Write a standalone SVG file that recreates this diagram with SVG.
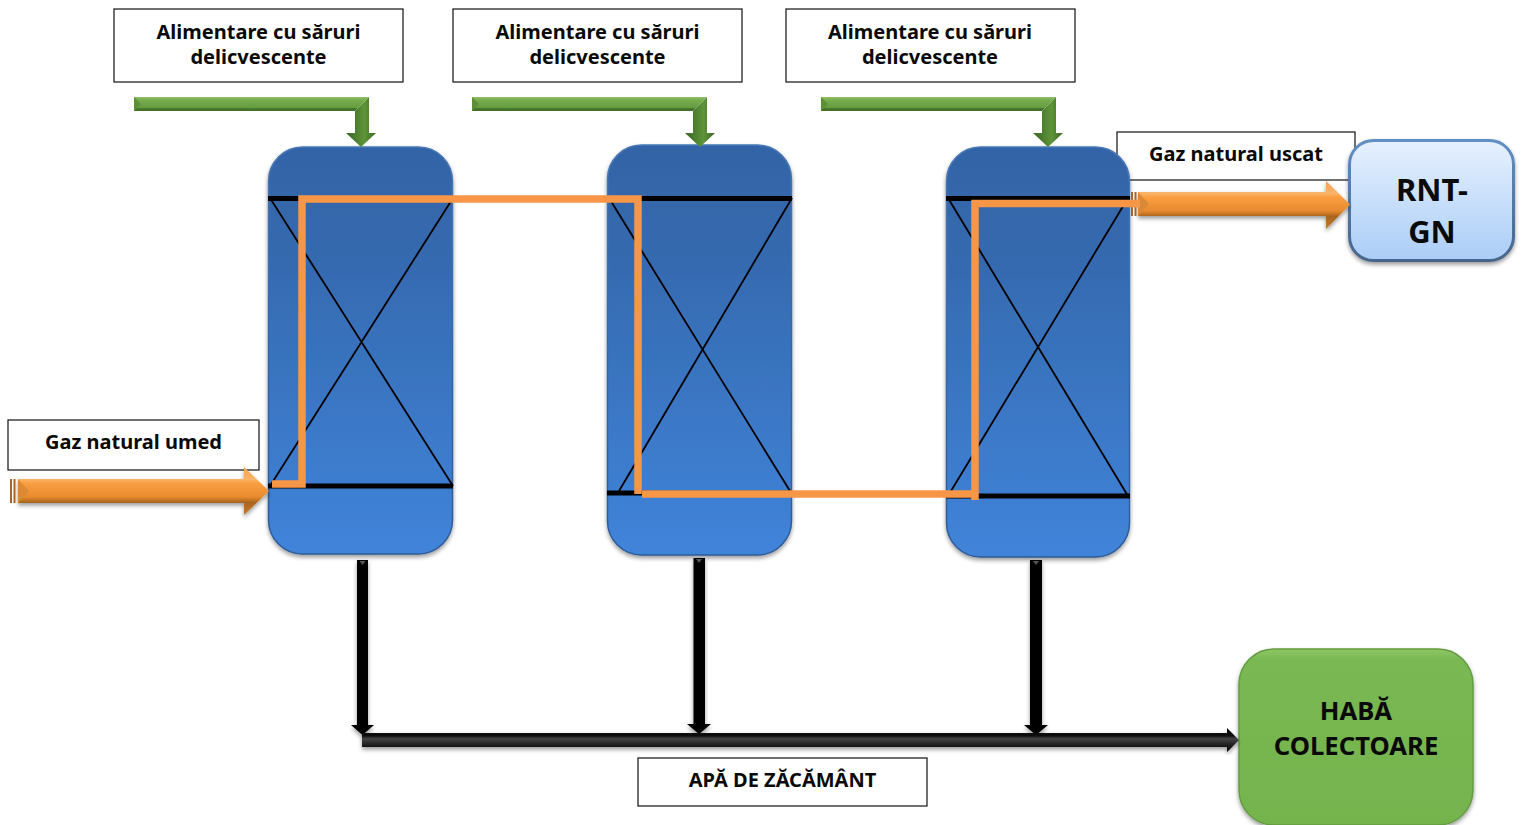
<svg xmlns="http://www.w3.org/2000/svg" width="1523" height="825" viewBox="0 0 1523 825">
<style>
text{font-family:"Noto Sans","Open Sans","Liberation Sans",sans-serif;font-weight:700;fill:#0a0a0a;text-anchor:middle}
.lb{font-size:20px}
.big{font-size:25.700px}
.box{fill:#fff;stroke:#111;stroke-width:1.2}
.vessel{fill:url(#gv);stroke:url(#gvs);stroke-width:1.500;filter:url(#sh)}
.x{fill:none;stroke:#000;stroke-width:1.800}
.bar{stroke:#000;stroke-width:5}
.org{fill:url(#go);filter:url(#sh)}
.blk{fill:url(#gk);filter:url(#sh)}
.blkv{fill:#000;filter:url(#sh)}
.tip{fill:#555}
.gh{fill:url(#ggh)}
.gv{fill:url(#ggv)}
.be{fill:#5c8f38}
.pipe{fill:none;stroke:#f79646;stroke-width:7.500;stroke-linejoin:miter}
</style>
<defs>
<filter id="sh" x="-5%" y="-5%" width="110%" height="115%"><feDropShadow dx="0" dy="2.500" stdDeviation="2" flood-color="#000" flood-opacity=".4"/></filter>
<linearGradient id="gv" x1="0" y1="0" x2="0" y2="1"><stop offset="0" stop-color="#3364a6"/><stop offset=".25" stop-color="#3569ae"/><stop offset="1" stop-color="#4084da"/></linearGradient>
<linearGradient id="gvs" x1="0" y1="0" x2="0" y2="1"><stop offset="0" stop-color="#4878b6"/><stop offset=".5" stop-color="#3567a8"/><stop offset="1" stop-color="#2d5a96"/></linearGradient>
<linearGradient id="go" x1="0" y1="0" x2="0" y2="1"><stop offset="0" stop-color="#f3a04e"/><stop offset=".26" stop-color="#f9b46a"/><stop offset=".33" stop-color="#f9a043"/><stop offset=".62" stop-color="#e98a2e"/><stop offset=".74" stop-color="#a8651f"/><stop offset="1" stop-color="#c77a2c"/></linearGradient>
<linearGradient id="gk" x1="0" y1="0" x2="0" y2="1"><stop offset="0" stop-color="#000"/><stop offset=".32" stop-color="#111"/><stop offset=".45" stop-color="#444"/><stop offset=".68" stop-color="#222"/><stop offset="1" stop-color="#000"/></linearGradient>
<linearGradient id="ggh" x1="0" y1="0" x2="0" y2="1"><stop offset="0" stop-color="#92bf6c"/><stop offset=".2" stop-color="#78ae4e"/><stop offset=".75" stop-color="#669c41"/><stop offset=".8" stop-color="#4a7a2e"/><stop offset="1" stop-color="#3f6d28"/></linearGradient>
<linearGradient id="ggv" x1="0" y1="0" x2="1" y2="0"><stop offset="0" stop-color="#3a6625"/><stop offset=".36" stop-color="#4f8130"/><stop offset=".62" stop-color="#5f9439"/><stop offset="1" stop-color="#3a6625"/></linearGradient>
<linearGradient id="gb" x1="0" y1="0" x2="0" y2="1"><stop offset="0" stop-color="#e6f1fe"/><stop offset="1" stop-color="#abcdf7"/></linearGradient>
<linearGradient id="gbs" x1="0" y1="0" x2="0" y2="1"><stop offset="0" stop-color="#5f8fc4"/><stop offset="1" stop-color="#47658a"/></linearGradient>
<linearGradient id="gg" x1="0" y1="0" x2="0" y2="1"><stop offset="0" stop-color="#8ec766"/><stop offset=".06" stop-color="#79b852"/><stop offset="1" stop-color="#75b44e"/></linearGradient>
</defs>

<g id="label-sare-1"><rect class="box" x="114" y="9" width="289" height="73"/><text class="lb" x="258.500" y="39">Alimentare cu săruri</text><text class="lb" x="258.500" y="64">delicvescente</text></g>
<g id="label-sare-2"><rect class="box" x="453" y="9" width="289" height="73"/><text class="lb" x="597.500" y="39">Alimentare cu săruri</text><text class="lb" x="597.500" y="64">delicvescente</text></g>
<g id="label-sare-3"><rect class="box" x="786" y="9" width="289" height="73"/><text class="lb" x="930" y="39">Alimentare cu săruri</text><text class="lb" x="930" y="64">delicvescente</text></g>
<g id="label-umed"><rect class="box" x="8" y="420" width="251" height="50"/><text class="lb" x="133.500" y="449">Gaz natural umed</text></g>
<g id="label-uscat"><rect class="box" x="1117" y="132" width="238" height="48"/><text class="lb" x="1236" y="161">Gaz natural uscat</text></g>
<g id="label-apa"><rect class="box" x="638" y="758" width="289" height="48"/><text class="lb" x="782.500" y="787">APĂ DE ZĂCĂMÂNT</text></g>

<g id="coloana-1"><rect class="vessel" x="268.500" y="147" width="184" height="407" rx="34"/>
<path class="x" d="M270 198L453 486M453 198L270 486"/><path class="bar" d="M268 198.500H453M268 486H453"/></g>
<g id="coloana-2"><rect class="vessel" x="607.500" y="145" width="184" height="410" rx="34"/>
<path class="x" d="M609 198L790 491M792 198L619 491"/><path class="bar" d="M607 198.500H792M607 493H792"/></g>
<g id="coloana-3"><rect class="vessel" x="946.500" y="147" width="183" height="410" rx="34"/>
<path class="x" d="M948 198L1128 496M1128 198L948 496"/><path class="bar" d="M946 198.500H1130M946 496H1130"/></g>

<g id="rnt-gn"><rect x="1349.500" y="140.500" width="164" height="120" rx="24" fill="url(#gb)" stroke="url(#gbs)" stroke-width="3" filter="url(#sh)"/>
<text x="1432" y="201" font-size="31">RNT-</text><text x="1432" y="243" font-size="31">GN</text></g>
<g id="haba"><rect x="1239" y="649" width="234" height="176" rx="35" fill="url(#gg)" stroke="#659c42" stroke-width="1.500" filter="url(#sh)"/>
<text class="big" x="1356" y="720">HABĂ</text><text class="big" x="1356" y="755">COLECTOARE</text></g>

<g id="connectors">
<g id="alim-1"><path class="gh" d="M134 97H369L355 111H134Z"/><path class="be" d="M134 97L141 104L134 111Z"/><path class="gv" d="M369 97V133H376L361 147L346 133H355V111Z"/></g>
<g id="alim-2"><path class="gh" d="M472 97H707L693 111H472Z"/><path class="be" d="M472 97L479 104L472 111Z"/><path class="gv" d="M707 97V133H715L700 147L685 133H693V111Z"/></g>
<g id="alim-3"><path class="gh" d="M821 97H1056L1042 111H821Z"/><path class="be" d="M821 97L828 104L821 111Z"/><path class="gv" d="M1056 97V133H1063L1048 147L1033 133H1042V111Z"/></g>

<g id="intrare-gaz"><path class="org" d="M18 479H244V467L269 491L244 515V503H18Z"/><path d="M18 479L29 491L18 503Z" fill="#d98a38"/><path d="M10 479h2v24h-2zM13.500 479h2v24h-2z" fill="#a8652a"/></g>
<g id="iesire-gaz"><path class="org" d="M1138 192H1326V181L1350 204.500L1326 229V216H1138Z"/><path d="M1138 192L1149 204L1138 216Z" fill="#d98a38"/><path d="M1131 192h2v24h-2zM1134.500 192h2v24h-2z" fill="#a8652a"/></g>

<path id="traseu" class="pipe" d="M272 484H302V199H638V494M642 494H975M975 500V203.500H1140"/>

<path class="blkv" d="M357 560H368V725H374L362.500 735L351 725H357Z"/><path class="tip" d="M359.500 561H365.500L362.500 565Z"/>
<path class="blkv" d="M693.500 558H705V724H711L699 734L687 724H693.500Z"/><path class="tip" d="M696 559H702L699 563Z"/>
<path class="blkv" d="M1030 560H1042V725H1048L1036 735L1024 725H1030Z"/><path class="tip" d="M1033 561H1039L1036 565Z"/>
<path class="blk" d="M362 733H1227V728L1239 740L1227 752V747H362Z"/>
</g>
</svg>
